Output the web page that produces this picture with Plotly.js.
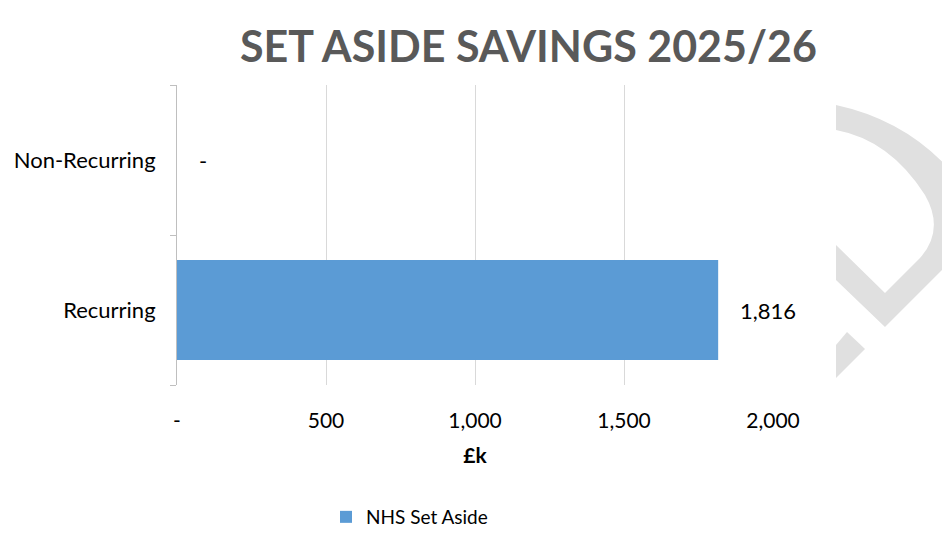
<!DOCTYPE html>
<html>
<head>
<meta charset="utf-8">
<script src="https://cdn.plot.ly/plotly-3.0.1.min.js"></script>
<style>html,body{margin:0;padding:0;background:#fff}#chart{width:942px;height:537px}</style>
</head>
<body>
<div id="chart"></div>
<script>
const categories = ["Recurring", "Non-Recurring"];
const values = [1816, 0];
const valueLabels = ["1,816", "-"];
const seriesName = "NHS Set Aside";
const tickVals = [0, 500, 1000, 1500, 2000];
const tickText = ["-", "500", "1,000", "1,500", "2,000"];

const FONT = "Lato, 'Open Sans', sans-serif";

const trace = {
  type: "bar",
  orientation: "h",
  x: values,
  y: categories,
  name: seriesName,
  marker: {color: "#5b9bd5"},
  hoverinfo: "skip",
  showlegend: true
};

const annotations = values.map((v, i) => ({
  x: v, y: categories[i], xref: "x", yref: "y",
  text: valueLabels[i], showarrow: false,
  xanchor: "left", xshift: 20,
  font: {family: FONT, size: 22, color: "#000"}
}));

function px(x, y) {
  const L = 177, W = 942 - 177 - 169, T = 85, H = 537 - 85 - 152;
  return ((x - L) / W).toFixed(4) + "," + (1 - (y - T) / H).toFixed(4);
}
const wm1 = "M" + px(836,105) + " Q" + px(905,120) + " " + px(950,170) +
  " L" + px(950,262) + " L" + px(885,327) + " L" + px(836,280) + " L" + px(836,245) +
  " L" + px(885,293) + " L" + px(920,258) + " Q" + px(945,230) + " " + px(925,195) +
  " Q" + px(890,140) + " " + px(836,130) + " Z";
const wm2 = "M" + px(836,345) + " L" + px(847,332) + " L" + px(865,349) + " L" + px(836,378) + " Z";

const layout = {
  width: 942, height: 537,
  margin: {l: 177, r: 169, t: 85, b: 152},
  paper_bgcolor: "#fff", plot_bgcolor: "#fff",
  title: {text: "<b>SET ASIDE SAVINGS 2025/26</b>", x: 0.561, xanchor: "center",
          y: 1 - 47/537, yanchor: "middle",
          font: {family: FONT, size: 43, color: "#595959"}},
  bargap: 0.333,
  xaxis: {
    range: [0, 2000], tickvals: tickVals, ticktext: tickText,
    showgrid: true, gridcolor: "#d9d9d9", gridwidth: 1,
    zeroline: false, showline: false, ticks: "",
    tickfont: {family: FONT, size: 21, color: "#000"},
    ticklabelstandoff: 21,
    title: {text: "<b>£k</b>", font: {family: FONT, size: 21, color: "#000"}, standoff: 17},
    fixedrange: true
  },
  yaxis: {
    categoryorder: "array", categoryarray: categories,
    showline: true, linecolor: "#bfbfbf", linewidth: 1,
    ticks: "outside", tickson: "boundaries", ticklen: 6, tickcolor: "#bfbfbf",
    showgrid: false, zeroline: false,
    tickfont: {family: FONT, size: 22, color: "#000"},
    ticklabelstandoff: 16,
    fixedrange: true
  },
  legend: {orientation: "h", x: 326/942, xanchor: "left", xref: "container",
           y: 1 - 517/537, yref: "container", yanchor: "middle",
           itemwidth: 30,
           font: {family: FONT, size: 19, color: "#000"}},
  annotations: annotations,
  shapes: [wm1, wm2].map(p => ({type: "path", xref: "paper", yref: "paper", layer: "below",
    fillcolor: "#e0e0e0", line: {width: 0}, path: p}))
};

Plotly.newPlot("chart", [trace], layout, {displayModeBar: false, staticPlot: true});
</script>
</body>
</html>
